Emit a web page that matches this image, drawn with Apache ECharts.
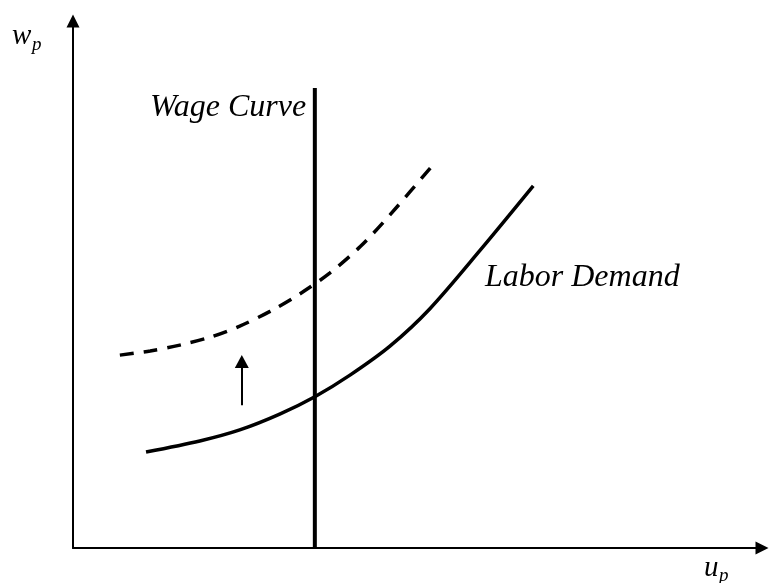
<!DOCTYPE html>
<html>
<head>
<meta charset="utf-8">
<script src="https://cdn.jsdelivr.net/npm/echarts@6/dist/echarts.min.js"></script>
<style>
  html, body { margin: 0; padding: 0; background: #fff; }
  #chart { width: 770px; height: 583px; }
</style>
</head>
<body>
<div id="chart"></div>
<script>
// labor demand (solid) and shifted labor demand (dashed)
const demandX = [10.6, 18.4, 24.2, 30.0, 35.1, 40.2, 46.0, 51.8, 59.1, 66.8]
const demandY = [18.2, 20.3, 22.4, 25.4, 28.7, 32.8, 38.3, 45.4, 56.5, 68.7]
const shiftedX = [6.8, 11.2, 15.5, 19.9, 24.2, 28.6, 32.9, 37.3, 41.7, 46.0, 52.5]
const shiftedY = [36.6, 37.4, 38.5, 40.0, 42.1, 44.9, 48.2, 52.2, 57.2, 63.2, 73.1]
// vertical wage curve
const wageCurveX = 35.1
const wageCurveTop = 87.3
// shift arrow
const arrowX = 24.5
const arrowFrom = 27.1
const arrowTo = 35.4

const serif = '"Liberation Serif", "DejaVu Serif", serif'

const chart = echarts.init(document.getElementById('chart'))

const axisCommon = {
  type: 'value',
  min: 0,
  max: 100,
  axisLine: {
    show: true,
    onZero: false,
    symbol: ['none', 'triangle'],
    symbolSize: [13, 13],
    lineStyle: { color: '#000', width: 2 }
  },
  axisTick: { show: false },
  axisLabel: { show: false },
  splitLine: { show: false }
}

const option = {
  backgroundColor: '#fff',
  animation: false,
  grid: { left: 73, right: 8, top: 21, bottom: 35 },
  xAxis: axisCommon,
  yAxis: axisCommon,
  series: [
    {
      name: 'Labor Demand',
      type: 'line',
      smooth: 0.3,
      symbol: 'none',
      data: demandX.map((x, i) => [x, demandY[i]]),
      lineStyle: { color: '#000', width: 3.5 }
    },
    {
      name: 'Shifted',
      type: 'line',
      smooth: 0.3,
      symbol: 'none',
      data: shiftedX.map((x, i) => [x, shiftedY[i]]),
      lineStyle: { color: '#000', width: 3.5, type: [14, 10] }
    },
    {
      name: 'Wage Curve',
      type: 'line',
      symbol: 'none',
      data: [[wageCurveX, 0], [wageCurveX, wageCurveTop]],
      lineStyle: { color: '#000', width: 4 },
      markLine: {
        silent: true,
        symbol: ['none', 'triangle'],
        symbolSize: [14, 13],
        label: { show: false },
        lineStyle: { color: '#000', width: 2, type: 'solid' },
        data: [[{ coord: [arrowX, arrowFrom] }, { coord: [arrowX, arrowTo] }]]
      }
    }
  ],
  graphic: [
    { type: 'text', left: 150, top: 92, style: { text: 'Wage Curve', font: 'italic 32px ' + serif, fill: '#000' } },
    { type: 'text', left: 485, top: 262, style: { text: 'Labor Demand', font: 'italic 32px ' + serif, fill: '#000' } },
    { type: 'text', left: 12, top: 22, style: { text: 'w', font: 'italic 29px ' + serif, fill: '#000' } },
    { type: 'text', left: 32, top: 35, style: { text: 'p', font: 'italic 19px ' + serif, fill: '#000' } },
    { type: 'text', left: 704, top: 554, style: { text: 'u', font: 'italic 29px ' + serif, fill: '#000' } },
    { type: 'text', left: 719, top: 566, style: { text: 'p', font: 'italic 19px ' + serif, fill: '#000' } }
  ]
}

chart.setOption(option)
</script>
</body>
</html>
